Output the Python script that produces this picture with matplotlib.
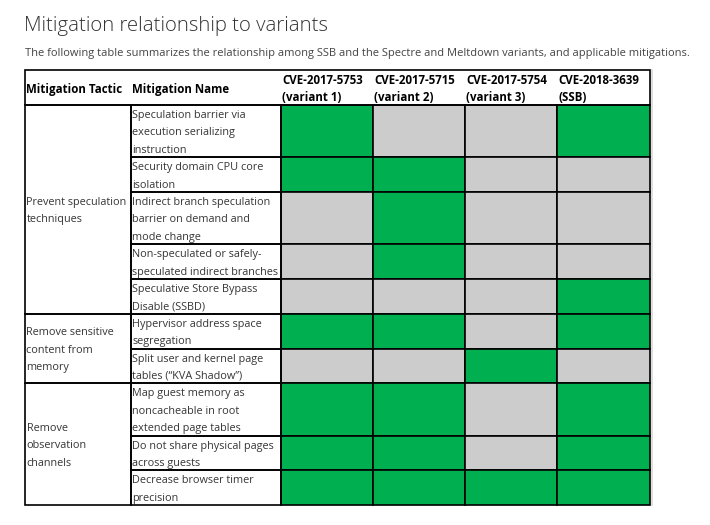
import matplotlib
matplotlib.use("Agg")
import matplotlib.pyplot as plt
from matplotlib.patches import Rectangle

plt.rcParams["font.family"] = ["Open Sans", "DejaVu Sans"]

title = "Mitigation relationship to variants"
subtitle = ("The following table summarizes the relationship among SSB and the Spectre "
            "and Meltdown variants, and applicable mitigations.")

headers = ["Mitigation Tactic", "Mitigation Name",
           "CVE-2017-5753\n(variant 1)", "CVE-2017-5715\n(variant 2)",
           "CVE-2017-5754\n(variant 3)", "CVE-2018-3639\n(SSB)"]

tactics = ["Prevent speculation\ntechniques",
           "Remove sensitive\ncontent from\nmemory",
           "Remove\nobservation\nchannels"]
tactic_rows = [5, 2, 3]

names = ["Speculation barrier via\nexecution serializing\ninstruction",
         "Security domain CPU core\nisolation",
         "Indirect branch speculation\nbarrier on demand and\nmode change",
         "Non-speculated or safely-\nspeculated indirect branches",
         "Speculative Store Bypass\nDisable (SSBD)",
         "Hypervisor address space\nsegregation",
         "Split user and kernel page\ntables (\u201cKVA Shadow\u201d)",
         "Map guest memory as\nnoncacheable in root\nextended page tables",
         "Do not share physical pages\nacross guests",
         "Decrease browser timer\nprecision"]

# 1 = mitigation applies to the variant (green), 0 = not (grey)
coverage = [[1, 0, 0, 1],
            [1, 1, 0, 0],
            [0, 1, 0, 0],
            [0, 1, 0, 0],
            [0, 0, 0, 1],
            [1, 1, 0, 1],
            [0, 0, 1, 0],
            [1, 1, 0, 1],
            [1, 1, 0, 1],
            [1, 1, 1, 1]]

GREEN = "#00b050"
GREY = "#cccccc"
TEXT = "#363636"

col_x = [25, 131, 281, 373, 465, 557, 650]
top = 70
line_h = 17.4
header_h = 35
pad_x = 1.5
dy = 1.5  # small baseline nudge for cell text

fig = plt.figure(figsize=(7.1, 5.25), dpi=100, facecolor="white")
ax = fig.add_axes([0, 0, 1, 1])
ax.set_xlim(0, 710)
ax.set_ylim(525, 0)
ax.axis("off")

ax.text(24, 25.5, title, fontsize=14.7, fontweight="light", color="#333333",
        va="center", ha="left")
ax.text(25, 53.5, subtitle, fontsize=8.0, color="#444444", va="center", ha="left")

lw = 1.2
fs = 7.8
hfs = 8.3

# header
for i, h in enumerate(headers):
    x0 = col_x[i]
    if "\n" in h:
        for k, line in enumerate(h.split("\n")):
            ax.text(x0 + pad_x, top + 9 + dy + k * line_h, line, fontsize=hfs,
                    fontweight="bold", color="black", va="center", ha="left")
    else:
        ax.text(x0 + pad_x, top + header_h / 2 + dy, h, fontsize=hfs,
                fontweight="bold", color="black", va="center", ha="left")
ax.add_patch(Rectangle((col_x[0], top), col_x[-1] - col_x[0], header_h,
                       fill=False, edgecolor="black", lw=lw, zorder=3))

# rows
row_heights = [len(n.split("\n")) * line_h for n in names]
row_tops = []
y = top + header_h
for h in row_heights:
    row_tops.append(y)
    y += h

for r, name in enumerate(names):
    y0, h = row_tops[r], row_heights[r]
    for k, line in enumerate(name.split("\n")):
        ax.text(col_x[1] + pad_x, y0 + 9 + dy + k * line_h, line, fontsize=fs,
                color=TEXT, va="center", ha="left")
    ax.add_patch(Rectangle((col_x[1], y0), col_x[2] - col_x[1], h,
                           fill=False, edgecolor="black", lw=lw, zorder=3))
    for c, v in enumerate(coverage[r]):
        ax.add_patch(Rectangle((col_x[c + 2], y0), col_x[c + 3] - col_x[c + 2], h,
                               facecolor=GREEN if v else GREY,
                               edgecolor="black", lw=lw, zorder=2))

# merged tactic cells
start = 0
for tactic, n in zip(tactics, tactic_rows):
    y0 = row_tops[start]
    y1 = row_tops[start + n - 1] + row_heights[start + n - 1]
    lines = tactic.split("\n")
    mid = (y0 + y1) / 2 + dy
    for k, line in enumerate(lines):
        ax.text(col_x[0] + pad_x, mid + (k - (len(lines) - 1) / 2) * line_h, line,
                fontsize=fs, color=TEXT, va="center", ha="left")
    ax.add_patch(Rectangle((col_x[0], y0), col_x[1] - col_x[0], y1 - y0,
                           fill=False, edgecolor="black", lw=lw, zorder=3))
    start += n

# faint shadow along the right edge of the table
ax.plot([col_x[-1] + 1.5] * 2, [top, row_tops[-1] + row_heights[-1]],
        color="#d8d8d8", lw=1.2, zorder=1)

fig.savefig("out.png", dpi=100, facecolor="white")
